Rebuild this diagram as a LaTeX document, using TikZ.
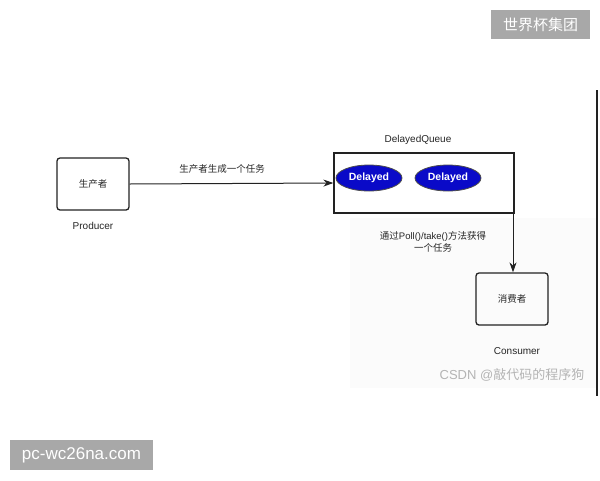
\documentclass[tikz,border=0pt]{standalone}
\usepackage{fontspec}
\setmainfont{Liberation Sans}
\newfontfamily\cjk{Noto Sans CJK SC}
\usetikzlibrary{arrows.meta,shapes.geometric}
\definecolor{boxgray}{HTML}{A8A8A8}
\definecolor{qblue}{HTML}{0A0AC8}
\definecolor{linec}{HTML}{222222}
\definecolor{wmark}{HTML}{B4B4B4}
\begin{document}
\begin{tikzpicture}[x=1pt,y=-1pt,
  procbox/.style={draw=linec,line width=1.3pt,rounded corners=3pt,minimum width=72pt,minimum height=52pt,inner sep=0pt},
  queuebox/.style={draw=linec,line width=1.3pt,minimum width=180pt,minimum height=60pt,inner sep=0pt},
  delayed/.style={ellipse,draw=black!70,line width=0.8pt,fill=qblue,text=white,font=\fontsize{10.5}{12}\selectfont\bfseries,minimum width=66pt,minimum height=26pt,inner sep=0pt},
  lbl/.style={font=\fontsize{10}{12}\selectfont,text=black!85,inner sep=0pt},
  clbl/.style={font=\cjk\fontsize{9.5}{11.5}\selectfont,text=black!85,inner sep=0pt,align=center},
  conn/.style={draw=linec,line width=1pt,-{Stealth[length=10pt,width=7pt]}},
  tag/.style={fill=boxgray,text=white,inner sep=0pt}
]
\useasboundingbox (0,0) rectangle (600,480);
\fill[white] (0,0) rectangle (600,480);
% faint screenshot area
\fill[black!1.5] (350,218) rectangle (596,388);

\node[procbox] (prod) at (93,184) {};
\node[clbl] (prodt) at (93,184) {生产者};
\node[lbl] (prodl) at (93,226) {Producer};

\node[queuebox] (queue) at (424,183) {};
\node[lbl] (queuel) at (418,140) {DelayedQueue};
\node[delayed] (d1) at (369,178) {Delayed};
\node[delayed] (d2) at (448,178) {Delayed};

\node[procbox] (cons) at (512,299) {};
\node[clbl] (const) at (512,299) {消费者};
\node[lbl] (consl) at (517,351) {Consumer};

\draw[conn] (prod.east) -- (queue.west);
\node[clbl] (l1) at (222,169) {生产者生成一个任务};

\coordinate (qs) at (513,213);
\draw[conn] (qs) -- (qs |- cons.north);
\node[clbl,font=\fontsize{9.5}{12}\selectfont] (l2) at (433,242) {{\cjk 通过}Poll()/take(){\cjk 方法获得}\\{\cjk 一个任务}};

\coordinate (v1) at (597,90);
\coordinate (v2) at (597,396);
\draw[linec,line width=1.4pt] (v1) -- (v2);

\node[font=\cjk\fontsize{13}{15}\selectfont,text=wmark,inner sep=0pt] (wm) at (512,375) {\fontspec{Liberation Sans}CSDN @\cjk 敲代码的程序狗};

\node[tag,minimum width=99pt,minimum height=29pt,font=\cjk\fontsize{15}{17}\selectfont] (t1) at (540.5,24.5) {世界杯集团};
\node[tag,minimum width=143pt,minimum height=30pt,font=\fontsize{17}{19}\selectfont] (t2) at (81.5,455) {pc-wc26na.com};
\end{tikzpicture}
\end{document}
